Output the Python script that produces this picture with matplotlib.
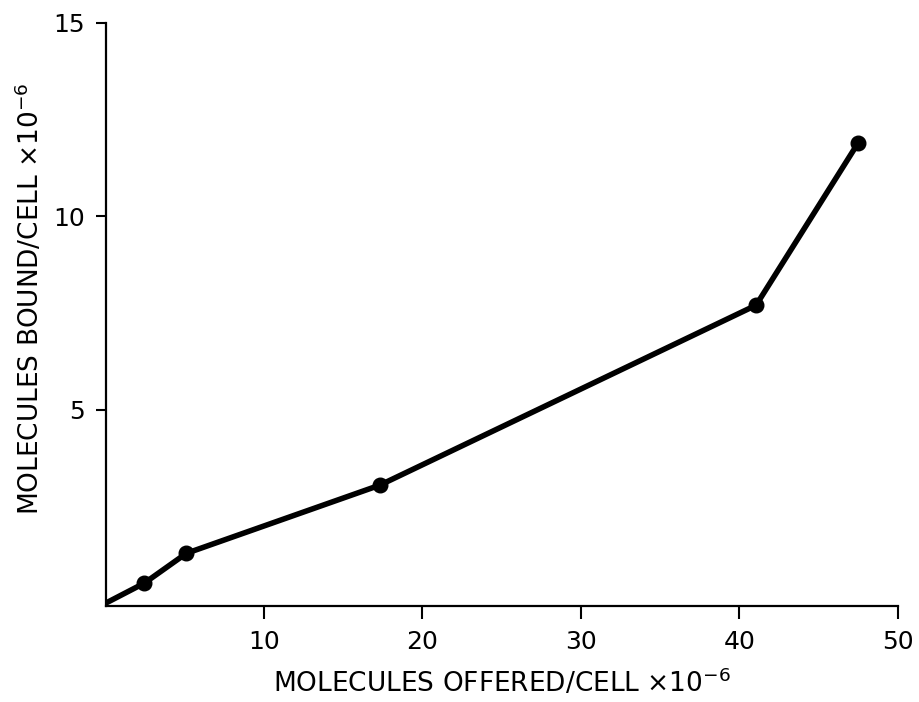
import matplotlib
matplotlib.use('Agg')
import matplotlib.pyplot as plt

# binding data: molecules offered vs. molecules bound per cell (both x 10^-6)
offered = [0.0, 2.45, 5.1, 17.3, 41.05, 47.5]
bound = [0.0, 0.52, 1.29, 3.05, 7.7, 11.9]

xticks = [10, 20, 30, 40, 50]
yticks = [5, 10, 15]

plt.rcParams['font.family'] = 'DejaVu Sans'

fig = plt.figure(figsize=(9.2, 7.02), dpi=100)
ax = fig.add_axes([0.1147, 0.1368, 0.8613, 0.8309])

ax.plot(offered, bound, color='black', linewidth=4, solid_capstyle='round')
ax.plot(offered[1:], bound[1:], 'o', color='black', markersize=10.5)

ax.set_xlim(0, 50)
ax.set_ylim(-0.07, 15)
ax.set_xticks(xticks)
ax.set_yticks(yticks)
ax.set_xticklabels([str(t) for t in xticks], fontsize=18)
ax.set_yticklabels([str(t) for t in yticks], fontsize=18)
ax.tick_params(axis='x', direction='out', length=9, width=1.5, pad=8)
ax.tick_params(axis='y', direction='out', length=7, width=1.5, pad=8)

for side in ['top', 'right']:
    ax.spines[side].set_visible(False)
for side in ['left', 'bottom']:
    ax.spines[side].set_linewidth(1.6)

ax.set_xlabel(r'MOLECULES OFFERED/CELL $\times$10$^{-6}$', fontsize=19)
ax.set_ylabel(r'MOLECULES BOUND/CELL $\times$10$^{-6}$', fontsize=19)
ax.xaxis.set_label_coords(0.5, -0.106)
ax.yaxis.set_label_coords(-0.077, 0.527)

fig.savefig('out.png', dpi=100)
